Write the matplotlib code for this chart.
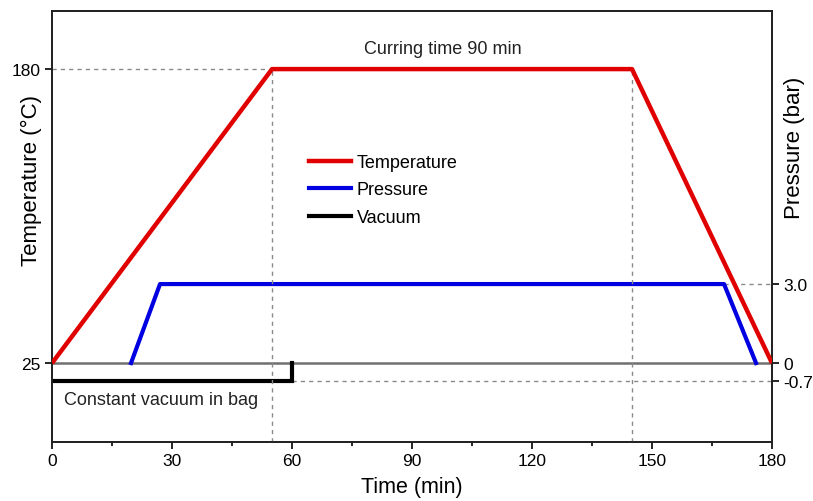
import matplotlib
matplotlib.use("Agg")
import matplotlib.pyplot as plt

plt.rcParams['font.family'] = ['Liberation Sans', 'DejaVu Sans']

# Data
time_temp = [0, 55, 145, 180]
temperature = [25, 180, 180, 25]
time_press = [19.75, 27, 168, 176]
pressure = [0, 3.0, 3.0, 0]
time_vac = [0, 60, 60]
vacuum = [-0.7, -0.7, 0]

x_ticks = [0, 30, 60, 90, 120, 150, 180]
temp_ticks = [25, 180]
press_ticks = [-0.7, 0, 3.0]
press_ticklabels = ['-0.7', '0', '3.0']

fig = plt.figure(figsize=(8.13, 5.02), dpi=100)
ax = fig.add_axes([0.064, 0.1175, 0.8856, 0.8585])
ax2 = ax.twinx()

ax.set_xlim(0, 180)
ax.set_ylim(-16.6, 210.6)
ax2.set_ylim(-3.0, 13.37)

grid_kw = dict(color='#8a8a8a', lw=1.0, ls=(0, (3, 3)), zorder=1)
ax.plot([0, 55], [180, 180], **grid_kw)
ax.plot([55, 55], [-16.6, 180], **grid_kw)
ax.plot([145, 145], [-16.6, 180], **grid_kw)
ax2.plot([168, 180], [3.0, 3.0], **grid_kw)
ax2.plot([60, 180], [-0.7, -0.7], **grid_kw)
ax2.plot([0, 180], [0, 0], color='#707070', lw=1.8, zorder=1)

l1, = ax2.plot([], [], color='#e00000', lw=3.2, label='Temperature')
ax.plot(time_temp, temperature, color='#e00000', lw=3.2, zorder=5, solid_capstyle='butt')
l2, = ax2.plot(time_press, pressure, color='#0000e0', lw=3.0, label='Pressure', zorder=4)
l3, = ax2.plot(time_vac, vacuum, color='black', lw=3.0, label='Vacuum', zorder=4,
               solid_joinstyle='miter')

ax.set_zorder(ax2.get_zorder() + 1)
ax.patch.set_visible(False)

ax.set_xticks(x_ticks)
ax.set_xticks([15, 45, 75, 105, 135, 165], minor=True)
ax.set_yticks(temp_ticks)
ax.set_yticklabels([str(t) for t in temp_ticks])
ax2.set_yticks(press_ticks)
ax2.set_yticklabels(press_ticklabels)

ax.tick_params(axis='both', which='major', labelsize=12.5, length=5, width=1.2, direction='out', pad=3)
ax.tick_params(axis='x', which='minor', length=3, width=1.2, direction='out')
ax2.tick_params(axis='y', which='major', labelsize=12.5, length=5, width=1.2, direction='out', pad=3)

for a in (ax, ax2):
    for s in a.spines.values():
        s.set_linewidth(1.3)
        s.set_color('#222222')

ax.set_xlabel('Time (min)', fontsize=15.5, labelpad=6)
ax.set_ylabel('Temperature (°C)', fontsize=16)
ax.yaxis.set_label_coords(-0.028, 0.61)
ax.yaxis.label.set_verticalalignment('center')
ax2.set_ylabel('Pressure (bar)', fontsize=16)
ax2.yaxis.set_label_coords(1.031, 0.685)
ax2.yaxis.label.set_verticalalignment('center')

ax.text(97.75, 190.8, 'Curring time 90 min', fontsize=13, ha='center', va='center', color='#222222')
ax.text(3.0, 6, 'Constant vacuum in bag', fontsize=13, ha='left', va='center', color='#222222')

leg = ax.legend(handles=[l1, l2, l3], loc='upper left', bbox_to_anchor=(0.347, 0.685),
                frameon=False, fontsize=13, handlelength=2.3, handletextpad=0.35,
                labelspacing=0.58, borderaxespad=0)

fig.savefig('out.png', dpi=100)
